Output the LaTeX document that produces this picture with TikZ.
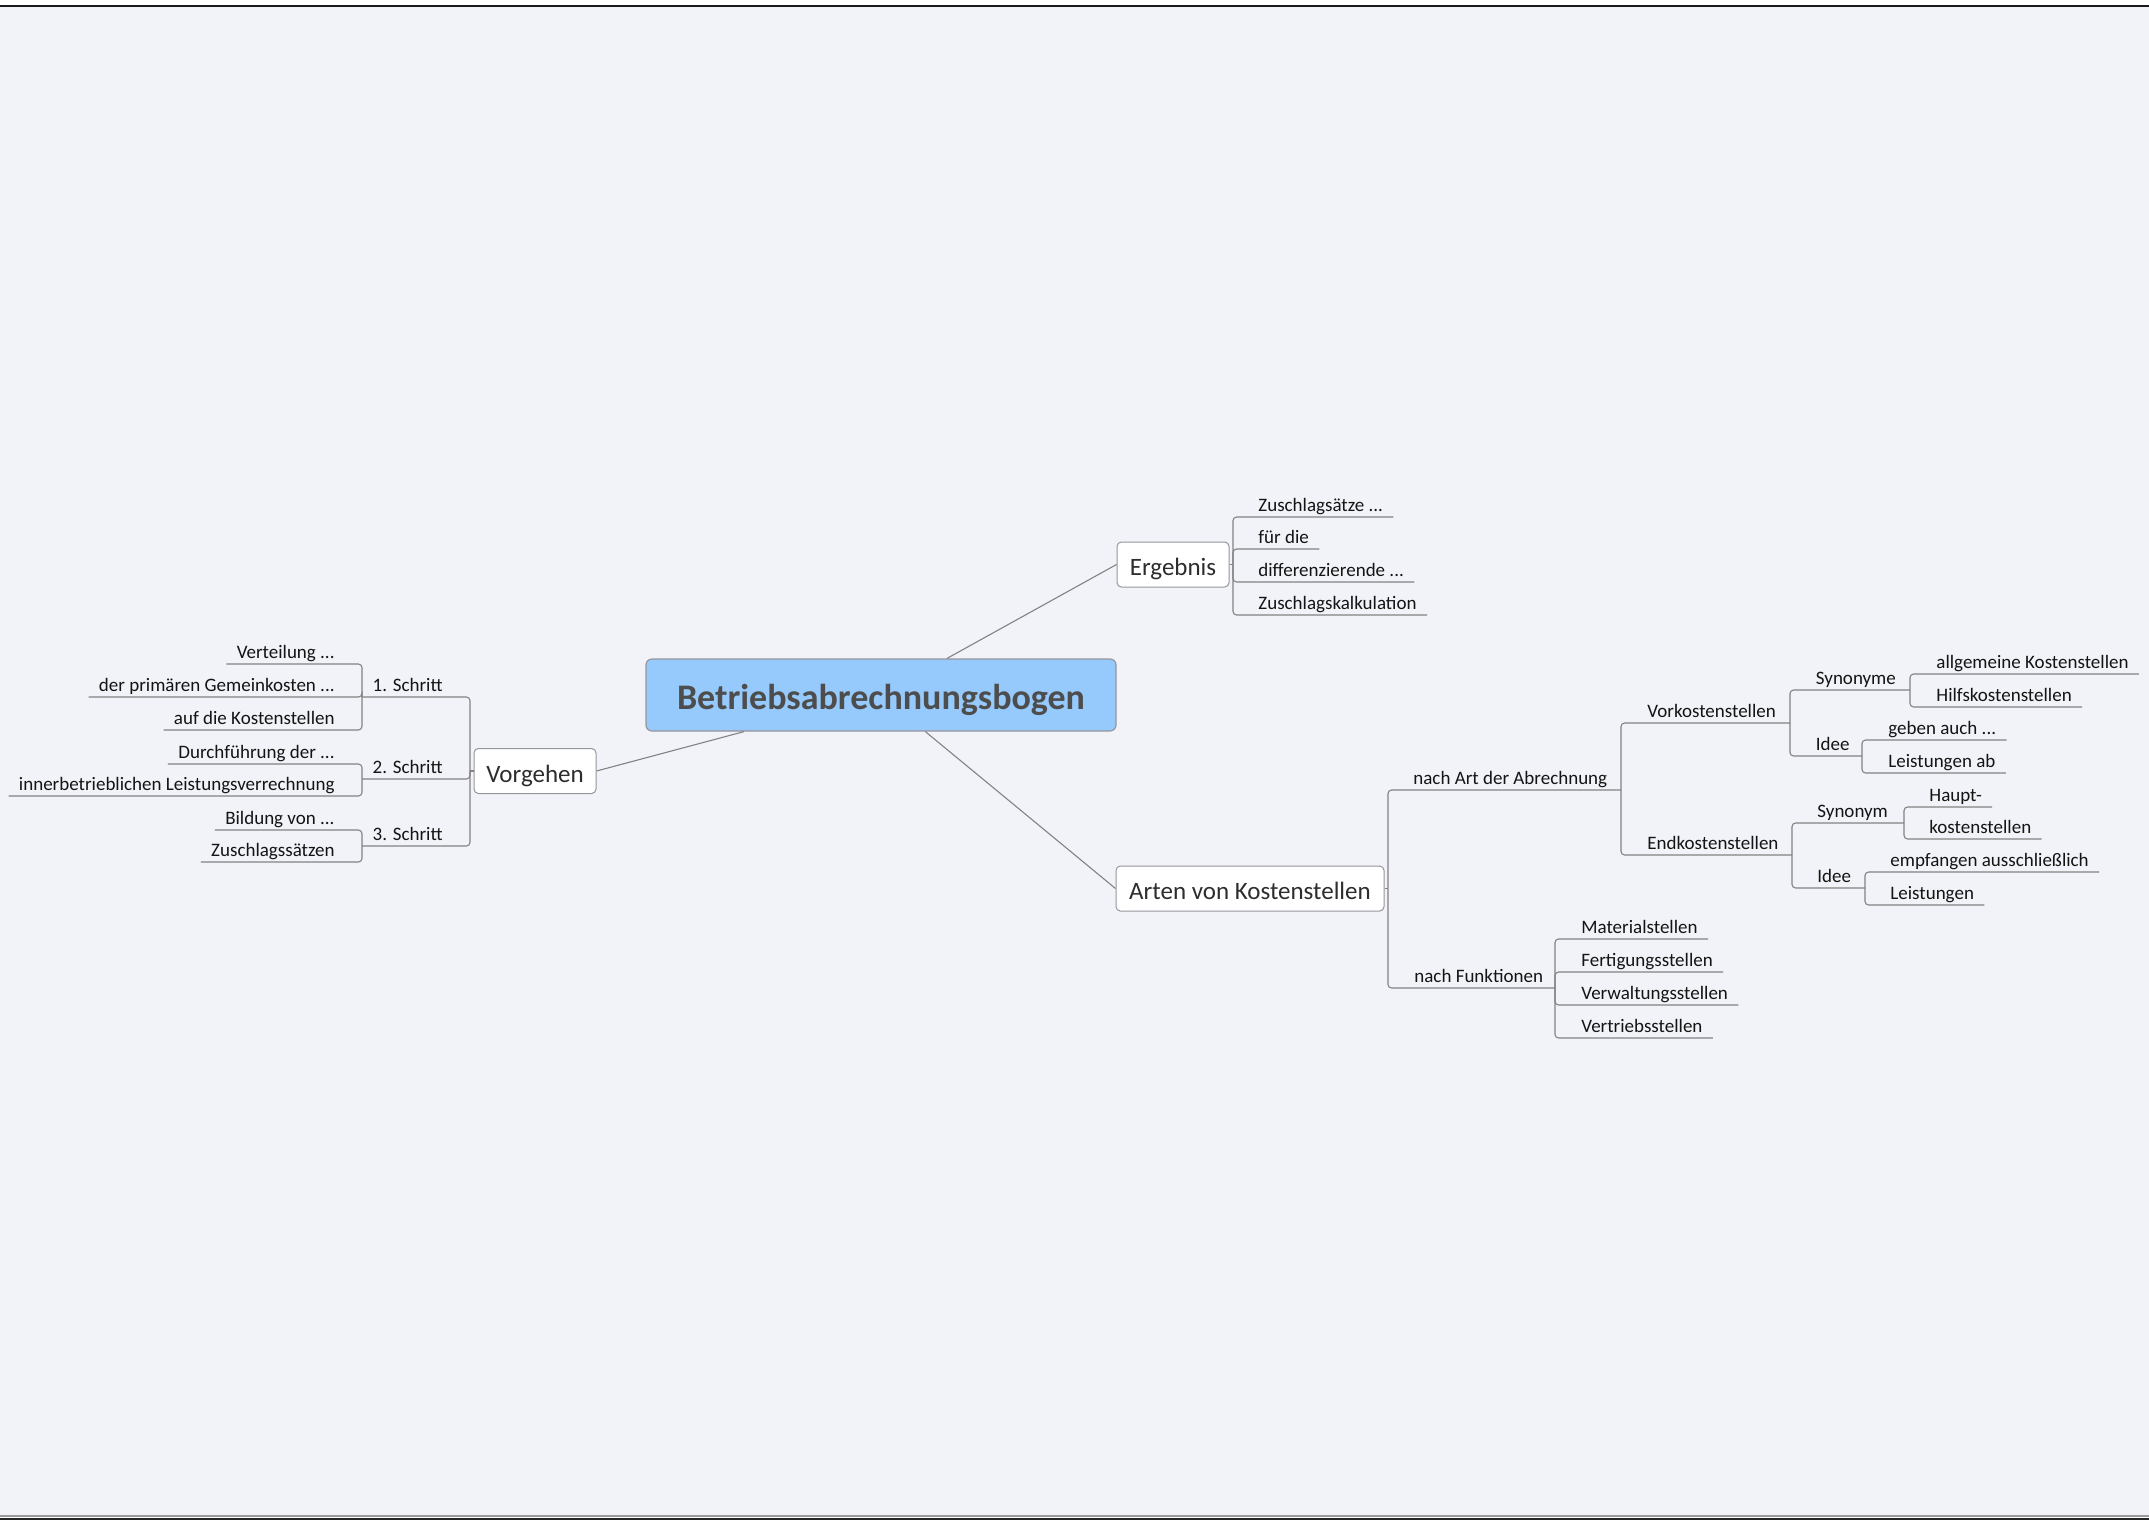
\documentclass[tikz,border=0pt]{standalone}
\usepackage{fontspec}
\setmainfont{Carlito}
\usetikzlibrary{calc}
\definecolor{bgc}{RGB}{242,243,248}
\definecolor{linec}{RGB}{130,130,132}
\definecolor{boxline}{RGB}{150,150,156}
\definecolor{centfill}{RGB}{150,201,252}
\definecolor{centtext}{RGB}{77,77,77}
\definecolor{txtc}{RGB}{20,20,20}
\definecolor{topictext}{RGB}{45,45,45}
\begin{document}
\begin{tikzpicture}[x=0.5pt,y=-0.5pt,
  conn/.style={draw=linec, line width=0.55pt, rounded corners=1.8pt},
  spoke/.style={draw=linec, line width=0.55pt},
  lbl/.style={inner sep=0pt, text=txtc, font=\fontsize{9.5pt}{11pt}\selectfont},
  topic/.style={draw=boxline, fill=white, rounded corners=2.2pt, line width=0.5pt,
    minimum height=22.5pt, inner sep=0pt, text=topictext, text height=12pt, text depth=1pt,
    font=\fontsize{12.5pt}{15pt}\selectfont},
  central/.style={draw=boxline, fill=centfill, rounded corners=3pt, line width=0.6pt,
    minimum width=235pt, minimum height=36pt, inner sep=0pt, text=centtext,
    text height=16pt, text depth=2pt,
    font=\fontsize{18pt}{21pt}\selectfont\bfseries}
]
% page
\fill[white] (0,0) rectangle (2149,1521);
\fill[black!90] (0,5) rectangle (2149,7);
\fill[bgc] (0,7) rectangle (2149,1515);
\fill[black!40] (0,1515) rectangle (2149,1517);
\fill[black!85] (0,1518) rectangle (2149,1520);
\useasboundingbox (0,0) rectangle (2149,1521);

% main topics
\node[central] (c) at (881,695) {Betriebsabrechnungsbogen};
\node[topic, minimum width=61pt] (vorg) at (535,771) {Vorgehen};
\node[topic, minimum width=56pt] (erg) at (1173,564.5) {Ergebnis};
\node[topic, minimum width=134pt] (art) at (1250,888.5) {Arten von Kostenstellen};

\draw[spoke] (vorg.east) -- (c);
\draw[spoke] (c) -- (erg.west);
\draw[spoke] (c) -- (art.west);

% ---------------- Vorgehen (left) ----------------
\coordinate (vbk) at (470,771);
\coordinate (s1bk) at (362,697);
\coordinate (s2bk) at (362,779);
\coordinate (s3bk) at (362,846);
\draw[spoke] (vorg.west) -- (vbk);
\draw[conn] (vbk) |- (s1bk);
\draw[conn] (vbk) |- (s2bk);
\draw[conn] (vbk) |- (s3bk);
\node[lbl, anchor=base east] (s1) at (443,691.5) {1. Schritt};
\node[lbl, anchor=base east] (s2) at (443,773.5) {2. Schritt};
\node[lbl, anchor=base east] (s3) at (443,840.5) {3. Schritt};

\node[lbl, anchor=base east] (v1) at (335,658) {Verteilung ...};
\node[lbl, anchor=base east] (v2) at (335,691) {der primären Gemeinkosten ...};
\node[lbl, anchor=base east] (v3) at (335,724) {auf die Kostenstellen};
\draw[conn] (s1bk) |- ($(v1.base west)+(-10,6)$);
\draw[conn] (s1bk) |- ($(v2.base west)+(-10,6)$);
\draw[conn] (s1bk) |- ($(v3.base west)+(-10,6)$);

\node[lbl, anchor=base east] (d1) at (335,758) {Durchführung der ...};
\node[lbl, anchor=base east] (d2) at (335,790) {innerbetrieblichen Leistungsverrechnung};
\draw[conn] (s2bk) |- ($(d1.base west)+(-10,6)$);
\draw[conn] (s2bk) |- ($(d2.base west)+(-10,6)$);

\node[lbl, anchor=base east] (b1) at (335,824) {Bildung von ...};
\node[lbl, anchor=base east] (b2) at (335,856) {Zuschlagssätzen};
\draw[conn] (s3bk) |- ($(b1.base west)+(-10,6)$);
\draw[conn] (s3bk) |- ($(b2.base west)+(-10,6)$);

% ---------------- Ergebnis ----------------
\coordinate (ebk) at (1233,564.5);
\draw[spoke] (erg.east) -- (ebk);
\node[lbl, anchor=base west] (e1) at (1258,511) {Zuschlagsätze ...};
\node[lbl, anchor=base west] (e2) at (1258,543) {für die};
\node[lbl, anchor=base west] (e3) at (1258,576) {differenzierende ...};
\node[lbl, anchor=base west] (e4) at (1258,609) {Zuschlagskalkulation};
\draw[conn] (ebk) |- ($(e1.base east)+(10,6)$);
\draw[conn] (ebk) |- ($(e2.base east)+(10,6)$);
\draw[conn] (ebk) |- ($(e3.base east)+(10,6)$);
\draw[conn] (ebk) |- ($(e4.base east)+(10,6)$);

% ---------------- Arten von Kostenstellen ----------------
\coordinate (abk) at (1388,888.5);
\coordinate (nabk) at (1621,790);
\coordinate (nfbk) at (1555,988);
\draw[spoke] (art.east) -- (abk);
\draw[conn] (abk) |- (nabk);
\draw[conn] (abk) |- (nfbk);
\node[lbl, anchor=base west] (na) at (1413,784.5) {nach Art der Abrechnung};
\node[lbl, anchor=base west] (nf) at (1414,982.5) {nach Funktionen};

% nach Art der Abrechnung
\coordinate (vkbk) at (1790,723);
\coordinate (ekbk) at (1792,855);
\draw[conn] (nabk) |- (vkbk);
\draw[conn] (nabk) |- (ekbk);
\node[lbl, anchor=base west] (vk) at (1647,717.5) {Vorkostenstellen};
\node[lbl, anchor=base west] (ek) at (1647,849.5) {Endkostenstellen};

% Vorkostenstellen
\coordinate (synbk) at (1910,690);
\coordinate (id1bk) at (1862,756);
\draw[conn] (vkbk) |- (synbk);
\draw[conn] (vkbk) |- (id1bk);
\node[lbl, anchor=base west] (syn) at (1815.5,684.5) {Synonyme};
\node[lbl, anchor=base west] (id1) at (1815.5,750.5) {Idee};

\node[lbl, anchor=base west] (sy1) at (1936,668) {allgemeine Kostenstellen};
\node[lbl, anchor=base west] (sy2) at (1936,701) {Hilfskostenstellen};
\draw[conn] (synbk) |- ($(sy1.base east)+(10,6)$);
\draw[conn] (synbk) |- ($(sy2.base east)+(10,6)$);

\node[lbl, anchor=base west] (ia1) at (1888,734) {geben auch ...};
\node[lbl, anchor=base west] (ia2) at (1888,767) {Leistungen ab};
\draw[conn] (id1bk) |- ($(ia1.base east)+(10,6)$);
\draw[conn] (id1bk) |- ($(ia2.base east)+(10,6)$);

% Endkostenstellen
\coordinate (sybk) at (1904,823);
\coordinate (id2bk) at (1865,888);
\draw[conn] (ekbk) |- (sybk);
\draw[conn] (ekbk) |- (id2bk);
\node[lbl, anchor=base west] (sy) at (1817,817.5) {Synonym};
\node[lbl, anchor=base west] (id2) at (1817,882.5) {Idee};

\node[lbl, anchor=base west] (hk1) at (1929,801) {Haupt-};
\node[lbl, anchor=base west] (hk2) at (1929,833) {kostenstellen};
\draw[conn] (sybk) |- ($(hk1.base east)+(10,6)$);
\draw[conn] (sybk) |- ($(hk2.base east)+(10,6)$);

\node[lbl, anchor=base west] (ib1) at (1890,866) {empfangen ausschließlich};
\node[lbl, anchor=base west] (ib2) at (1890,899) {Leistungen};
\draw[conn] (id2bk) |- ($(ib1.base east)+(10,6)$);
\draw[conn] (id2bk) |- ($(ib2.base east)+(10,6)$);

% nach Funktionen
\node[lbl, anchor=base west] (f1) at (1581,933) {Materialstellen};
\node[lbl, anchor=base west] (f2) at (1581,966) {Fertigungsstellen};
\node[lbl, anchor=base west] (f3) at (1581,999) {Verwaltungsstellen};
\node[lbl, anchor=base west] (f4) at (1581,1032) {Vertriebsstellen};
\draw[conn] (nfbk) |- ($(f1.base east)+(10,6)$);
\draw[conn] (nfbk) |- ($(f2.base east)+(10,6)$);
\draw[conn] (nfbk) |- ($(f3.base east)+(10,6)$);
\draw[conn] (nfbk) |- ($(f4.base east)+(10,6)$);
\end{tikzpicture}
\end{document}
